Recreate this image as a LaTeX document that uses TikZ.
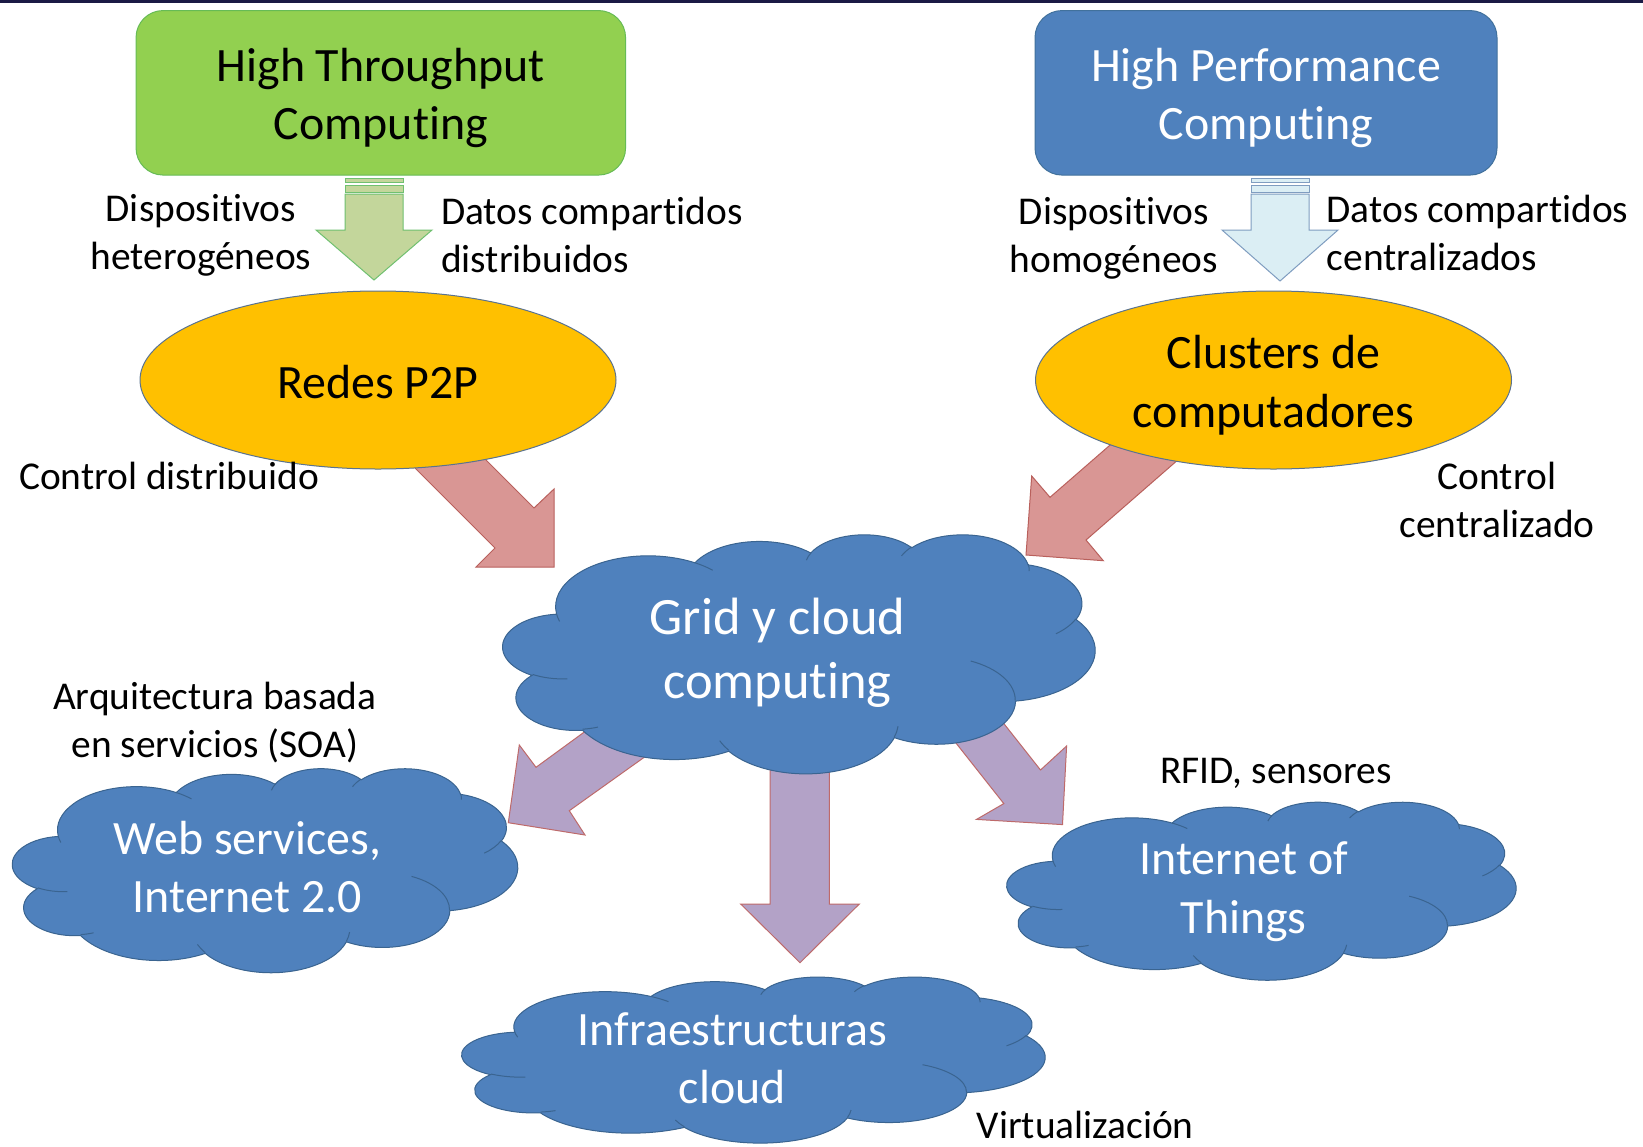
\documentclass[tikz,border=0pt]{standalone}
\usepackage{fontspec}
\setmainfont{Carlito}[Ligatures={NoCommon,NoContextual}]
\usetikzlibrary{shapes.geometric}
\definecolor{topline}{HTML}{1B1A45}
\definecolor{htcfill}{HTML}{92D050}
\definecolor{htcline}{HTML}{66BB55}
\definecolor{hpcfill}{HTML}{4F81BD}
\definecolor{hpcline}{HTML}{41719C}
\definecolor{ellfill}{HTML}{FFC000}
\definecolor{ellline}{HTML}{5A7390}
\definecolor{garrfill}{HTML}{C3D69B}
\definecolor{garrline}{HTML}{70C070}
\definecolor{barrfill}{HTML}{DBEEF4}
\definecolor{barrline}{HTML}{7F9DC0}
\definecolor{rarrfill}{HTML}{D99694}
\definecolor{rarrline}{HTML}{B9605C}
\definecolor{parrfill}{HTML}{B3A2C7}
\definecolor{parrline}{HTML}{BE6A6A}
\definecolor{cldfill}{HTML}{4F81BD}
\definecolor{cldline}{HTML}{3A6490}

\newcommand\oocompute[4]{%
  \pgfmathsetmacro\oots{atan2((#1)*sin(#3),(#2)*cos(#3))}%
  \pgfmathsetmacro\ooe{(#3)+(#4)}%
  \pgfmathsetmacro\oote{atan2((#1)*sin(\ooe),(#2)*cos(\ooe))}%
  \pgfmathsetmacro\oodl{\oote-\oots}%
  \pgfmathsetmacro\oodl{(#4)>0 ? (\oodl<0 ? \oodl+360 : \oodl) : (\oodl>0 ? \oodl-360 : \oodl)}%
  \xdef\oostart{\oots}\xdef\oodelta{\oodl}}
\newcommand\ooarc[4]{\pgfextra{\oocompute{#1}{#2}{#3}{#4}}arc[start angle=\oostart, delta angle=\oodelta, x radius=#1pt, y radius=#2pt]}
\newcommand\oocloudpath{(39pt,143.7pt)
  \ooarc{67.53}{91.90}{-190.4875}{123.7805}
  \ooarc{53.33}{72.67}{-144.1024}{89.9452}
  \ooarc{43.65}{59.45}{-145.8079}{99.7230}
  \ooarc{48.57}{65.95}{-130.9861}{117.2417}
  \ooarc{53.33}{72.73}{-78.7089}{109.0269}
  \ooarc{67.75}{92.20}{-46.2673}{130.2690}
  \ooarc{57.85}{78.67}{0.6250}{114.0333}
  \ooarc{67.52}{92.15}{22.4516}{115.1726}
  \ooarc{77.20}{105.43}{66.2426}{75.7110}
  \ooarc{43.60}{59.18}{-274.9421}{146.7356}
  \ooarc{43.45}{59.45}{-246.8285}{152.5189}
  -- cycle}
\newcommand\oocloudinner{(46.93pt,261.77pt) \ooarc{43.45}{59.45}{86.7420}{26.4295}
  (69.28pt,348.99pt) \ooarc{43.60}{59.18}{73.6105}{11.4475}
  (164.78pt,390.90pt) \ooarc{67.52}{92.15}{137.6242}{14.0811}
  (288.27pt,347.51pt) \ooarc{67.52}{92.15}{6.4533}{15.9984}
  (341.29pt,229.54pt) \ooarc{57.85}{78.67}{-70.2924}{70.9174}
  (417.98pt,153.54pt) \ooarc{53.33}{72.73}{30.3180}{27.7515}
  (383.24pt,54.26pt) \ooarc{48.57}{65.95}{-13.7443}{14.8540}
  (290.78pt,39.52pt) \ooarc{48.57}{65.95}{-149.1815}{18.1954}
  (221.41pt,47.20pt) \ooarc{43.65}{59.45}{-163.4943}{17.6875}
  (140.00pt,51.92pt) \ooarc{67.53}{91.90}{-66.7070}{12.3194}
  (41.27pt,157.89pt) \ooarc{67.53}{91.90}{157.6544}{11.8582}}
\newcommand\oocloud[4]{%
  \begin{scope}[shift={(#1,#2)}, xscale=#3/432, yscale=-#4/432]
    \filldraw[cloudshape] \oocloudpath;
    \draw[cloudshape, fill=none] \oocloudinner;
  \end{scope}}

\tikzset{
  cloudshape/.style={fill=cldfill, draw=cldline, line width=1pt},
  lbl/.style={font=\fontsize{39.4}{48}\selectfont, inner sep=0pt, text=black},
  bigtxt/.style={font=\fontsize{47.9}{58.5}\selectfont, inner sep=0pt, align=center},
  gridtxt/.style={font=\fontsize{52.5}{64}\selectfont, inner sep=0pt, align=center, text=white},
  boxnode/.style={rectangle, rounded corners=27pt, line width=1pt, inner sep=0pt},
  ellnode/.style={ellipse, fill=ellfill, draw=ellline, line width=1pt, inner sep=0pt, minimum width=476pt, minimum height=178pt},
  garrow/.style={fill=garrfill, draw=garrline, line width=1pt},
  barrow/.style={fill=barrfill, draw=barrline, line width=1pt},
  rarrow/.style={fill=rarrfill, draw=rarrline, line width=1pt, line join=miter},
  parrow/.style={fill=parrfill, draw=parrline, line width=1pt, line join=miter},
}

\begin{document}
\begin{tikzpicture}[x=1pt, y=-1pt]
\useasboundingbox (0,0) rectangle (1643,1146);
\fill[white] (0,0) rectangle (1643,1146);
\fill[topline] (0,0) rectangle (1643,2.5);

% block arrows (behind shapes)
\filldraw[garrow] (345,178) rectangle (403,182);
\filldraw[garrow] (345,185) rectangle (403,192);
\filldraw[garrow] (345,194) -- (403,194) -- (403,230) -- (432,230) -- (374,280) -- (316,230) -- (345,230) -- cycle;
\filldraw[barrow] (1251,178) rectangle (1309,182);
\filldraw[barrow] (1251,185) rectangle (1309,192);
\filldraw[barrow] (1251,194) -- (1309,194) -- (1309,230) -- (1338,230) -- (1280,281) -- (1222,230) -- (1251,230) -- cycle;

\filldraw[rarrow] (400,453) -- (495,548) -- (476,567) -- (554,567) -- (554,489) -- (534,508) -- (470,444) -- cycle;
\filldraw[rarrow] (1140,419) -- (1050,497.3) -- (1031.7,476) -- (1026,555) -- (1103.3,560.7) -- (1086,540) -- (1200,440.6) -- cycle;

\filldraw[parrow] (598,722) -- (536,767.3) -- (519.3,745) -- (508.3,822.7) -- (585,835) -- (569.3,810.7) -- (660,746) -- cycle;
\filldraw[parrow] (770,750) -- (770,904) -- (740.7,904) -- (800,962.7) -- (859.3,904) -- (829.3,904) -- (829.3,750) -- cycle;
\filldraw[parrow] (944.9,729) -- (1003.8,803.6) -- (976.5,819.4) -- (1062.5,824.6) -- (1066.6,746) -- (1040.5,770) -- (990.9,707.2) -- cycle;

% top boxes
\node[boxnode, fill=htcfill, draw=htcline, minimum width=489.5pt, minimum height=164.5pt] (htc) at (380.8,92.8) {};
\node[bigtxt] (htct) at (380.8,98) {High Throughput\\Computing};
\node[boxnode, fill=hpcfill, draw=hpcline, minimum width=462pt, minimum height=164.5pt] (hpc) at (1266,92.8) {};
\node[bigtxt, text=white] (hpct) at (1266,98) {High Performance\\Computing};

% ellipses
\node[ellnode] (p2p) at (378,380) {};
\node[bigtxt] (p2pt) at (378,382) {Redes P2P};
\node[ellnode] (clu) at (1273.5,380) {};
\node[bigtxt] (clut) at (1273.5,385) {Clusters de\\computadores};

% clouds
\oocloud{503}{534}{592}{239}
\oocloud{12.6}{768}{505}{204}
\oocloud{1007}{801.6}{509}{178}
\oocloud{462}{976.5}{583}{166}
\node[gridtxt] (grid) at (777.5,653) {Grid y cloud\\computing};
\node[bigtxt, text=white] (web) at (247.3,867) {Web services,\\Internet 2.0};
\node[bigtxt, text=white] (iot) at (1243.7,891.5) {Internet of\\Things};
\node[bigtxt, text=white] (infra) at (732.4,1058.4) {Infraestructuras\\cloud};

% labels
\node[lbl, align=center] (l1) at (201,235.6) {Dispositivos\\heterogéneos};
\node[lbl, align=left, anchor=west] (l2) at (441,235) {Datos compartidos\\distribuidos};
\node[lbl, align=center] (l3) at (1114,238.7) {Dispositivos\\homogéneos};
\node[lbl, align=left, anchor=west] (l4) at (1326.5,232.6) {Datos compartidos\\centralizados};
\node[lbl, anchor=west] (l5) at (19,476) {Control distribuido};
\node[lbl, align=center] (l6) at (1497,500.3) {Control\\centralizado};
\node[lbl, align=center] (l7) at (214.8,722.3) {Arquitectura basada\\en servicios (SOA)};
\node[lbl] (l8) at (1276,773) {RFID, sensores};
\node[lbl, anchor=west] (l9) at (976.5,1125) {Virtualización};
\end{tikzpicture}
\end{document}
